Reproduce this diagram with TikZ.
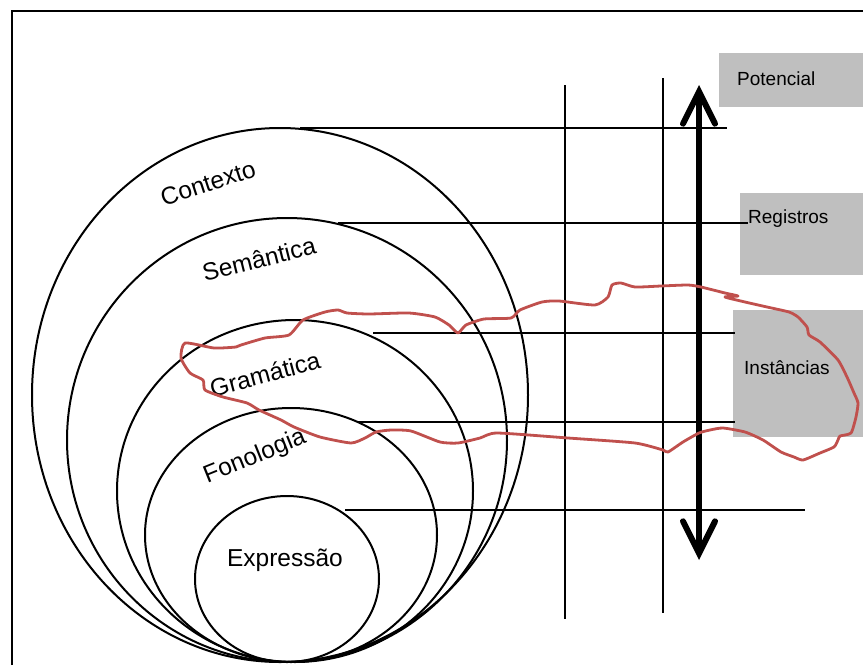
\documentclass[tikz,border=0pt]{standalone}
\usepackage{fontspec}
\setmainfont{Liberation Sans}
\usetikzlibrary{arrows.meta}
\definecolor{boxclr}{RGB}{191,191,191}
\definecolor{instclr}{RGB}{192,80,77}
\tikzset{ %
  ,every node/.style={inner sep=0}
  ,lbl/.style={font=\fontsize{24.5}{28}\selectfont}
  ,boxlbl/.style={font=\fontsize{19}{23}\selectfont, anchor=west}
  ,level/.style={draw, line width=2pt}
  ,rule/.style={line width=1.3pt}
  ,panel/.style={fill=boxclr}
  ,scalebar/.style={line width=6pt, {Straight Barb[length=32pt, width=32pt, line cap=round]}-{Straight Barb[length=32pt, width=32pt, line cap=round]}}
}

\begin{document}
\begin{tikzpicture}[x=1pt, y=-1pt]
  \useasboundingbox (0,0) rectangle (863,665);
  % frame
  \draw[line width=1.8pt] (12,665) -- (12,11) -- (863,11);

  % grey boxes on the right
  \fill[panel] (719,53) rectangle (863,107);
  \fill[panel] (740,193) rectangle (863,275);
  \fill[panel] (733,310) rectangle (863,437);
  \node[boxlbl] (pot) at (737,79) {Potencial};
  \node[boxlbl] (reg) at (748,219) {Registros};
  \node[boxlbl] (inst) at (744,368) {Instâncias};

  % nested strata
  \draw[level] (280,395) ellipse [x radius=248pt, y radius=267pt];
  \draw[level] (287,440) ellipse [x radius=220pt, y radius=222pt];
  \draw[level] (295,491) ellipse [x radius=178pt, y radius=171pt];
  \draw[level] (291,535) ellipse [x radius=146pt, y radius=127pt];
  \draw[level] (287,579) ellipse [x radius=92pt, y radius=83pt];

  \node[lbl, rotate=18] (ctx) at (208,183) {Contexto};
  \node[lbl, rotate=14] (sem) at (259,259) {Semântica};
  \node[lbl, rotate=15] (gram) at (265,374) {Gramática};
  \node[lbl, rotate=22] (fon) at (255,457) {Fonologia};
  \node[lbl] (expr) at (285,560) {Expressão};

  % rules
  \draw[rule] (300,128) -- (727,128);
  \draw[rule] (338,223) -- (reg.west |- 0,223);
  \draw[rule] (373,333) -- (735,333);
  \draw[rule] (357,422) -- (735,422);
  \draw[rule] (345,510) -- (805,510);
  \draw[rule] (565,85) -- (565,619);
  \draw[rule] (663,78) -- (663,613);

  % potential -- instance scale
  \draw[scalebar] (699,560) -- (699,85);

  % instances
  \draw[instclr, line width=2.8pt, line join=round]
    plot[smooth cycle, tension=0.35] coordinates {
      (181,358) (185,343) (214,348) (236,347) (241,345) (265,338) (289,335)
      (303,320) (325,312) (338,310) (347,313) (369,314) (409,313) (435,317)
      (449,325) (458,333) (466,325) (484,319) (511,318) (520,310) (542,302)
      (559,301) (595,305) (608,297) (612,285) (621,283) (635,287) (661,286)
      (688,285) (701,287) (725,293) (738,296) (725,297) (745,302) (767,307)
      (789,312) (798,317) (807,327) (809,335) (820,342) (838,360) (847,377)
      (854,393) (858,403) (856,417) (851,433) (840,436) (838,440) (834,447)
      (820,453) (803,460) (794,457) (781,452) (763,440) (745,432) (723,428)
      (710,430) (699,433) (683,442) (668,452) (663,450) (635,443) (568,438)
      (497,433) (480,438) (458,443) (440,442) (411,431) (391,430) (376,432)
      (365,438) (351,443) (320,437) (294,427) (281,420) (259,410) (247,403)
      (223,397) (205,390) (203,380) (190,373)
    };
\end{tikzpicture}
\end{document}
